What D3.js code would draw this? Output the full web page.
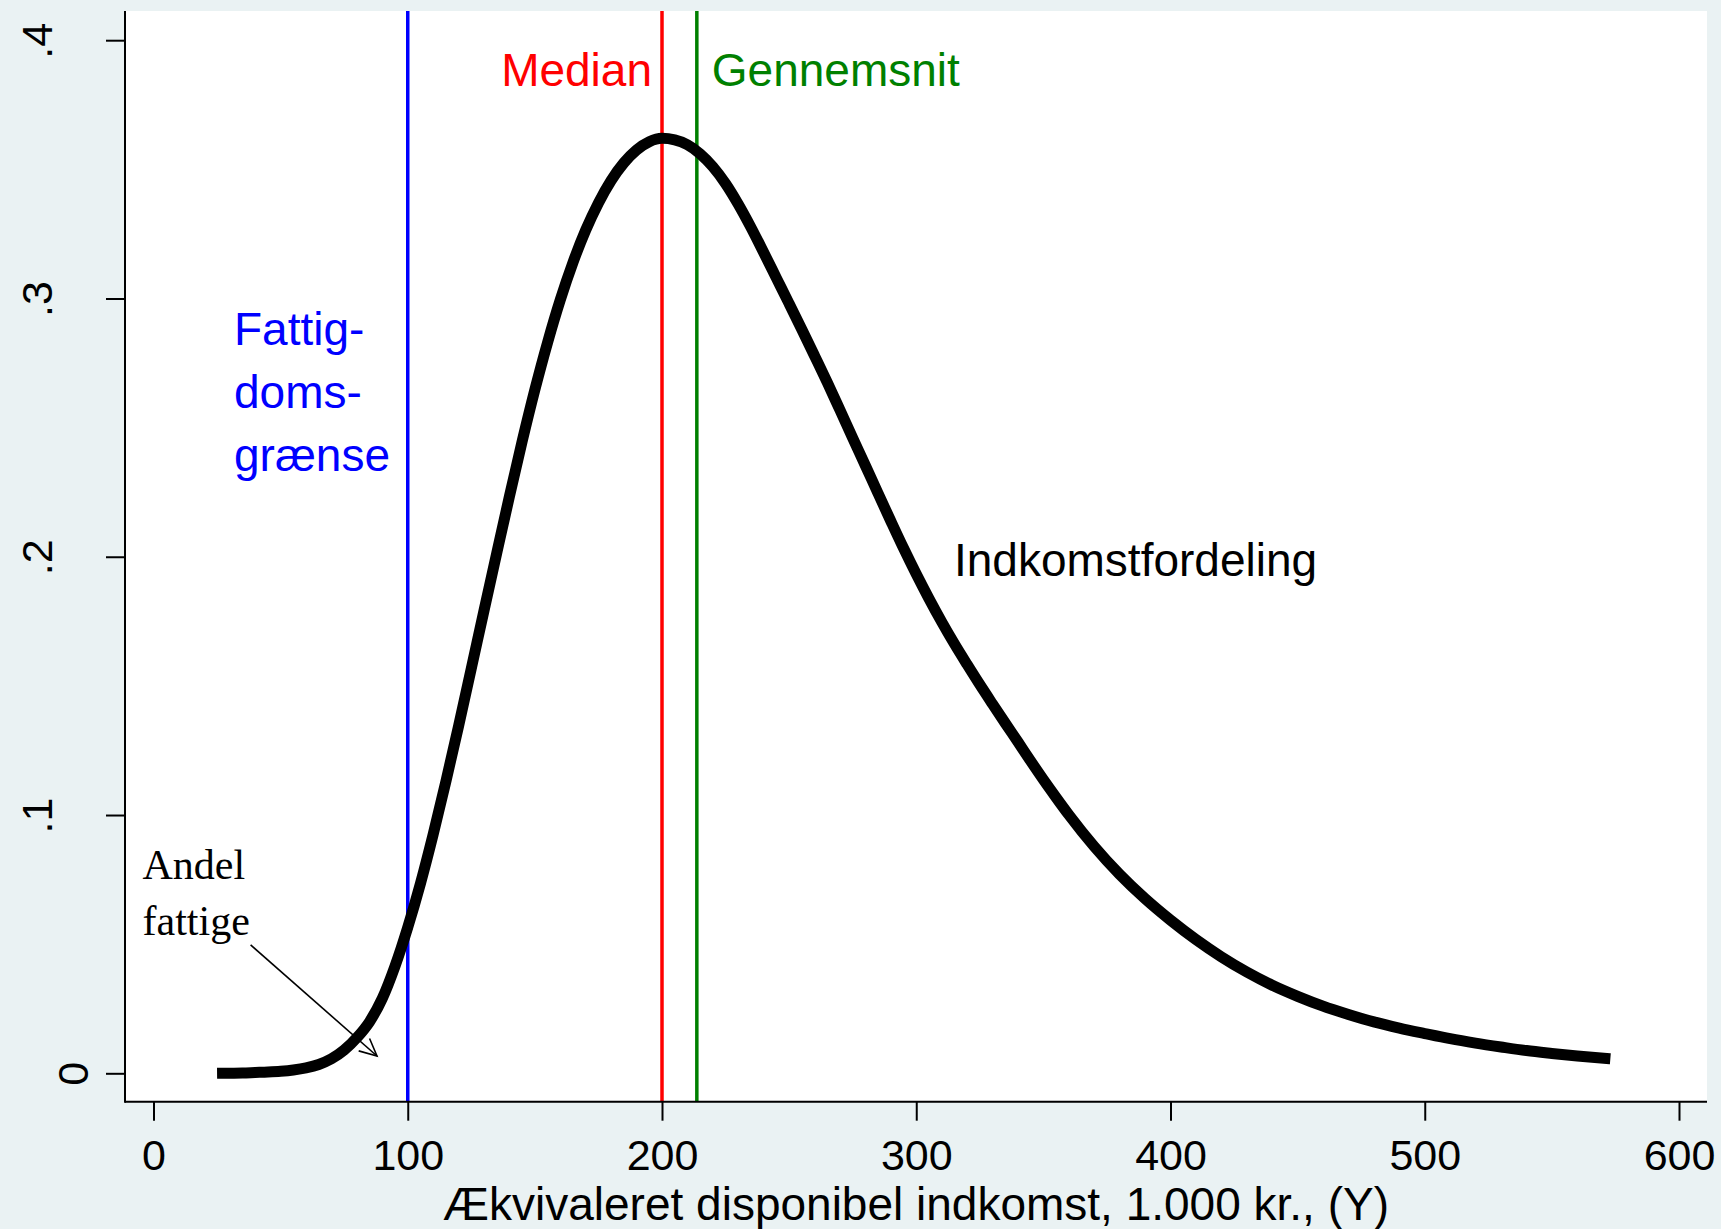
<!DOCTYPE html>
<html>
<head>
<meta charset="utf-8">
<script src="https://cdn.jsdelivr.net/npm/d3@7"></script>
<style>
  body { margin: 0; background: #eaf2f3; }
  svg { display: block; }
  .sans { font-family: "Liberation Sans", Arial, sans-serif; }
  .serif { font-family: "Liberation Serif", "Times New Roman", serif; }
</style>
</head>
<body>
<div id="chart"></div>
<script>
// --- DATA ---
const incomeX = [25, 30, 35, 40, 45, 50, 55, 60, 65, 70, 75, 80, 85, 90, 95, 100,
  105, 110, 115, 120, 125, 130, 135, 140, 145, 150, 155, 160, 165, 170, 175, 180,
  185, 190, 195, 200, 205, 210, 215, 220, 225, 230, 235, 240, 245, 250, 255, 260,
  265, 270, 275, 280, 285, 290, 295, 300, 305, 310, 315, 320, 325, 330, 335, 340,
  345, 350, 355, 360, 370, 380, 390, 400, 410, 420, 430, 440, 450, 460, 470, 480,
  490, 500, 510, 520, 530, 540, 550, 560, 573];
const density = [0, 0.00005, 0.0001, 0.0003, 0.0005, 0.0008, 0.0013, 0.0021, 0.0034, 0.0056,
  0.0090, 0.0138, 0.0200, 0.0290, 0.0415, 0.0565,
  0.0735, 0.0925, 0.1130, 0.1345, 0.1568, 0.1792, 0.2014, 0.2234, 0.2447, 0.2647,
  0.2830, 0.2995, 0.3140, 0.3265, 0.3370, 0.3457,
  0.3525, 0.3575, 0.3607, 0.3620, 0.3614, 0.3595, 0.3560, 0.3510, 0.3445, 0.3365,
  0.3275, 0.3178, 0.3079, 0.2980, 0.2880, 0.2778,
  0.2675, 0.2568, 0.2460, 0.2353, 0.2245, 0.2138, 0.2033, 0.1933, 0.1838, 0.1748,
  0.1663, 0.1583, 0.1505, 0.1430, 0.1356, 0.1283,
  0.1209, 0.1137, 0.1068, 0.1001, 0.0878, 0.0770, 0.0676, 0.0593, 0.0518, 0.0451,
  0.0392, 0.0341, 0.0298, 0.0260, 0.0228, 0.0199,
  0.0175, 0.0154, 0.0134, 0.0117, 0.0102, 0.0088, 0.0077, 0.0067, 0.0056];

// vertical reference lines: poverty line, median, mean
const refNames = ["fattig", "median", "mean"];
const refValues = [100, 200, 213.7];

const xTicks = [0, 100, 200, 300, 400, 500, 600];
const yTicks = [0, 0.1, 0.2, 0.3, 0.4];
const yTickLabels = ["0", ".1", ".2", ".3", ".4"];

const xTitle = "Ækvivaleret disponibel indkomst, 1.000 kr., (Y)";
const povertyLabel = ["Fattig-", "doms-", "grænse"];
const shareLabel = ["Andel", "fattige"];
// arrow from label to the area under the curve, in data units
const arrowFrom = [38.2, 0.0497];
const arrowTo = [87.9, 0.0067];

// --- STYLE ---
const W = 1721, H = 1229;
const plot = { left: 125, right: 1707, top: 11, bottom: 1101.7 };
const refColors = { fattig: "#0000ff", median: "#ff0000", mean: "#008000" };

const svg = d3.select("#chart").append("svg")
  .attr("width", W)
  .attr("height", H);

svg.append("rect")
  .attr("width", W).attr("height", H)
  .attr("fill", "#eaf2f3");

svg.append("rect")
  .attr("x", plot.left).attr("y", plot.top)
  .attr("width", plot.right - plot.left)
  .attr("height", plot.bottom - plot.top)
  .attr("fill", "#ffffff");

const x = d3.scaleLinear().domain([0, 600]).range([153.5, 1679]);
const y = d3.scaleLinear().domain([0, 0.4]).range([1073.3, 40.2]);

// reference lines
svg.selectAll(".ref")
  .data(refValues)
  .enter().append("line")
  .attr("class", "ref")
  .attr("x1", d => x(d)).attr("x2", d => x(d))
  .attr("y1", plot.top).attr("y2", plot.bottom)
  .attr("stroke", (d, i) => refColors[refNames[i]])
  .attr("stroke-width", 3.5);

// density curve
const pts = incomeX.map((v, i) => [v, density[i]]);
svg.append("path")
  .datum(pts)
  .attr("fill", "none")
  .attr("stroke", "#000")
  .attr("stroke-width", 11)
  .attr("stroke-linecap", "butt")
  .attr("stroke-linejoin", "round")
  .attr("d", d3.line()
    .x(d => x(d[0]))
    .y(d => y(d[1]))
    .curve(d3.curveMonotoneX));

// axes
const xAxis = svg.append("g")
  .attr("class", "sans")
  .attr("transform", `translate(0,${plot.bottom})`)
  .call(d3.axisBottom(x).tickValues(xTicks).tickSize(19).tickFormat(d3.format("d")));

xAxis.select(".domain").remove();
xAxis.selectAll(".tick line").attr("stroke", "#000").attr("stroke-width", 2);
xAxis.selectAll(".tick text")
  .attr("y", 68).attr("dy", null)
  .attr("fill", "#000")
  .style("font-size", "43px");

const yAxis = svg.append("g")
  .attr("class", "sans")
  .attr("transform", `translate(${plot.left},0)`)
  .call(d3.axisLeft(y).tickValues(yTicks).tickSize(19)
    .tickFormat((d, i) => yTickLabels[i]));

yAxis.select(".domain").remove();
yAxis.selectAll(".tick line").attr("stroke", "#000").attr("stroke-width", 2);
// Stata sets the zero label closer to the axis than the decimal ones
yAxis.selectAll(".tick text")
  .attr("x", null).attr("dy", null)
  .attr("text-anchor", "middle")
  .attr("transform", d => `translate(${(d === 0 ? 88 : 52) - plot.left},0) rotate(-90)`)
  .attr("fill", "#000")
  .style("font-size", "43px");

// axis lines
svg.append("line")
  .attr("x1", plot.left).attr("x2", plot.right)
  .attr("y1", plot.bottom).attr("y2", plot.bottom)
  .attr("stroke", "#000").attr("stroke-width", 2);
svg.append("line")
  .attr("x1", plot.left).attr("x2", plot.left)
  .attr("y1", plot.top).attr("y2", plot.bottom + 1)
  .attr("stroke", "#000").attr("stroke-width", 2);

svg.append("text")
  .attr("class", "sans")
  .attr("x", (plot.left + plot.right) / 2)
  .attr("y", 1220)
  .attr("text-anchor", "middle")
  .style("font-size", "46px")
  .text(xTitle);

// labels
svg.append("text")
  .attr("class", "sans")
  .attr("x", x(refValues[1]) - 10).attr("y", 85.6)
  .attr("text-anchor", "end")
  .attr("fill", refColors.median)
  .style("font-size", "46px")
  .text("Median");

svg.append("text")
  .attr("class", "sans")
  .attr("x", x(refValues[2]) + 15).attr("y", 85.6)
  .attr("fill", refColors.mean)
  .style("font-size", "46px")
  .text("Gennemsnit");

svg.append("text")
  .attr("class", "sans")
  .attr("x", 954).attr("y", 575.5)
  .style("font-size", "46px")
  .text("Indkomstfordeling");

svg.selectAll(".pov")
  .data(povertyLabel)
  .enter().append("text")
  .attr("class", "pov sans")
  .attr("x", 234)
  .attr("y", (d, i) => 345 + i * 63)
  .attr("fill", refColors.fattig)
  .style("font-size", "46px")
  .text(d => d);

svg.selectAll(".share")
  .data(shareLabel)
  .enter().append("text")
  .attr("class", "share serif")
  .attr("x", 142.5)
  .attr("y", (d, i) => 879 + i * 56)
  .style("font-size", "42px")
  .text(d => d);

// arrow with open head
const ax1 = x(arrowFrom[0]), ay1 = y(arrowFrom[1]);
const ax2 = x(arrowTo[0]), ay2 = y(arrowTo[1]);
const ang = Math.atan2(ay2 - ay1, ax2 - ax1);
const headLen = 19, headAng = Math.PI / 7;
const arrow = svg.append("g")
  .attr("stroke", "#000")
  .attr("stroke-width", 1.6)
  .attr("fill", "none");
arrow.append("line")
  .attr("x1", ax1).attr("y1", ay1)
  .attr("x2", ax2).attr("y2", ay2);
arrow.append("path")
  .attr("d", `M${ax2 - headLen * Math.cos(ang - headAng)},${ay2 - headLen * Math.sin(ang - headAng)}` +
    `L${ax2},${ay2}` +
    `L${ax2 - headLen * Math.cos(ang + headAng)},${ay2 - headLen * Math.sin(ang + headAng)}`);
</script>
</body>
</html>
